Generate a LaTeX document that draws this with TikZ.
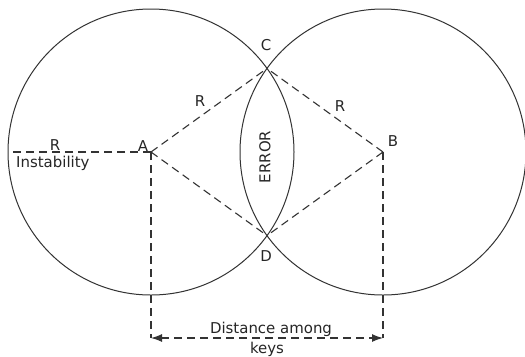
\documentclass[tikz,border=0pt]{standalone}
\usepackage{fontspec}
\setmainfont{DejaVu Sans}
\usetikzlibrary{arrows.meta}
\begin{document}
\begin{tikzpicture}[x=1bp,y=-1bp,
  circ/.style={draw=black!80, line width=1bp},
  dline/.style={draw=black!80, line width=1.1bp, dash pattern=on 8bp off 5bp},
  lbl/.style={font=\fontsize{15}{17}\selectfont, inner sep=0pt, text=black!85}]
\useasboundingbox[fill=white] (0,0) rectangle (525,356);
\coordinate (A) at (151,152);
\coordinate (B) at (383,152);
\coordinate (L) at (8,152);
\coordinate (C) at (267,68.4);
\coordinate (D) at (267,235.6);
\coordinate (A2) at (151,338);
\coordinate (B2) at (383,338);
% circles
\draw[circ] (A) circle[radius=143];
\draw[circ] (B) circle[radius=143];
% dashed radii
\draw[dline] (A) -- (L);
\draw[dline] (A) -- (C);
\draw[dline] (A) -- (D);
\draw[dline] (B) -- (C);
\draw[dline] (B) -- (D);
\draw[dline] (A) -- (A2);
\draw[dline] (B) -- (B2);
\draw[dline, {Latex[length=11bp,width=8bp]}-{Latex[length=11bp,width=8bp]}] (A2) -- (B2);
% labels
\node[lbl] (lA) at (143,146) {A};
\node[lbl] (lB) at (393,141) {B};
\node[lbl] (lC) at (266,45) {C};
\node[lbl] (lD) at (266,256) {D};
\node[lbl] (lR1) at (55,145.5) {R};
\node[lbl] (lR2) at (200,101) {R};
\node[lbl] (lR3) at (340,106) {R};
\node[lbl, anchor=base west] (lI) at (16,167.5) {Instability};
\node[lbl, rotate=90] (lE) at (265,157) {ERROR};
\node[lbl, anchor=base] (lD1) at (271,333) {Distance among};
\node[lbl, anchor=base] (lD2) at (267,353) {keys};
\end{tikzpicture}
\end{document}
